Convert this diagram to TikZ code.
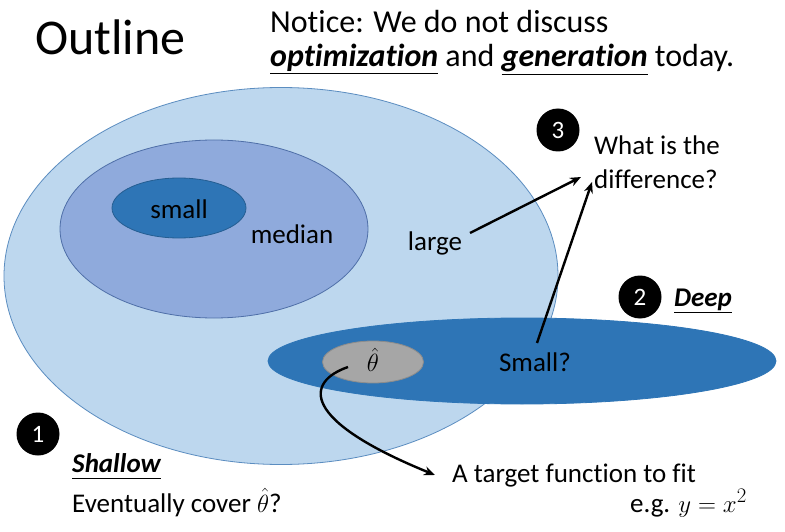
\documentclass[tikz,border=0pt]{standalone}
\usepackage{fontspec}
\setmainfont{Carlito}[Ligatures=NoCommon]
\usetikzlibrary{shapes.geometric,arrows.meta}
\definecolor{lightblue}{HTML}{BDD7EE}
\definecolor{lightedge}{HTML}{5B8DC0}
\definecolor{midblue}{HTML}{8FAADC}
\definecolor{midedge}{HTML}{4F6FA8}
\definecolor{deepblue}{HTML}{2E75B6}
\definecolor{thetagray}{HTML}{A6A6A6}
\definecolor{thetaedge}{HTML}{8C8C8C}
\newcommand{\ul}[1]{\underline{#1\vphantom{p}}}
\tikzset{
  region/.style={ellipse, inner sep=0pt, line width=0.8pt},
  lbl/.style={inner sep=0pt, font=\fontsize{27}{32}\selectfont},
  badge/.style={circle, fill=black, text=white, minimum size=43pt, inner sep=0pt,
    font=\fontsize{25}{28}\selectfont},
  link/.style={line width=2.4pt, -{Stealth[length=11pt,width=9pt]}}
}
\begin{document}
\begin{tikzpicture}[x=1pt,y=-1pt]
\useasboundingbox (0,0) rectangle (785,532);
\fill[white] (0,0) rectangle (785,532);

% title and notice
\node[anchor=base west, inner sep=0pt, font=\fontsize{50}{54}\selectfont] (title) at (35,55) {Outline};
\node[anchor=base west, inner sep=0pt, font=\fontsize{32}{36}\selectfont] (notice1) at (270,33)
  {Notice: We do not discuss};
\node[anchor=base west, inner sep=0pt, font=\fontsize{32}{36}\selectfont] (notice2) at (270,67)
  {\ul{\textbf{\textit{optimization}}} and \ul{\textbf{\textit{generation}}} today.};

% hypothesis sets
\node[region, draw=lightedge, fill=lightblue, minimum width=554pt, minimum height=377pt] (large) at (281,276) {};
\node[region, draw=midedge, fill=midblue, minimum width=308pt, minimum height=178pt] (median) at (214,229) {};
\node[region, draw=deepblue!80!black, fill=deepblue, minimum width=134pt, minimum height=60pt] (small) at (179,208) {};
\node[region, draw=deepblue, fill=deepblue, minimum width=508pt, minimum height=86pt] (deep) at (522,361) {};
\node[region, draw=thetaedge, fill=thetagray, minimum width=101pt, minimum height=42pt] (theta) at (373,362) {};

% labels
\node[lbl] (smalltxt) at (179,209) {small};
\node[lbl] (mediantxt) at (292,234) {median};
\node[lbl] (largetxt) at (435,243) {large};
\node[lbl] (smallq) at (535,362) {Small?};
\node[lbl, font=\fontsize{30}{32}\selectfont] (thetatxt) at (373,360) {$\hat\theta$};

% numbered badges
\node[badge] (b1) at (38,434) {1};
\node[badge] (b2) at (640,297) {2};
\node[badge] (b3) at (558,130) {3};

\node[lbl, anchor=base west] (deeptxt) at (674,306) {\ul{\textbf{\textit{Deep}}}};
\node[lbl, anchor=base west] (diff1) at (594,155) {What is the};
\node[lbl, anchor=base west] (diff2) at (594,189) {difference?};
\node[lbl, anchor=base west] (shallow) at (72,472) {\ul{\textbf{\textit{Shallow}}}};
\node[lbl, anchor=base west] (cover) at (72,512) {Eventually cover $\hat\theta$?};
\node[lbl, anchor=base west] (target) at (452,482) {A target function to fit};
\node[lbl, anchor=base east] (eg) at (747,512) {e.g. {\fontsize{30}{32}\selectfont$y=x^2$}};

% connectors
\coordinate (tip1) at (581,177);
\coordinate (tip2) at (592,182);
\coordinate (start1) at (470,233);
\coordinate (start2) at (537,343);
\coordinate (curvestart) at (348,367);
\coordinate (tip3) at (435,475);
\draw[link] (start1) -- (tip1);
\draw[link] (start2) -- (tip2);
\draw[link] (curvestart) .. controls (305,382) and (300,420) .. (tip3);
\end{tikzpicture}
\end{document}
